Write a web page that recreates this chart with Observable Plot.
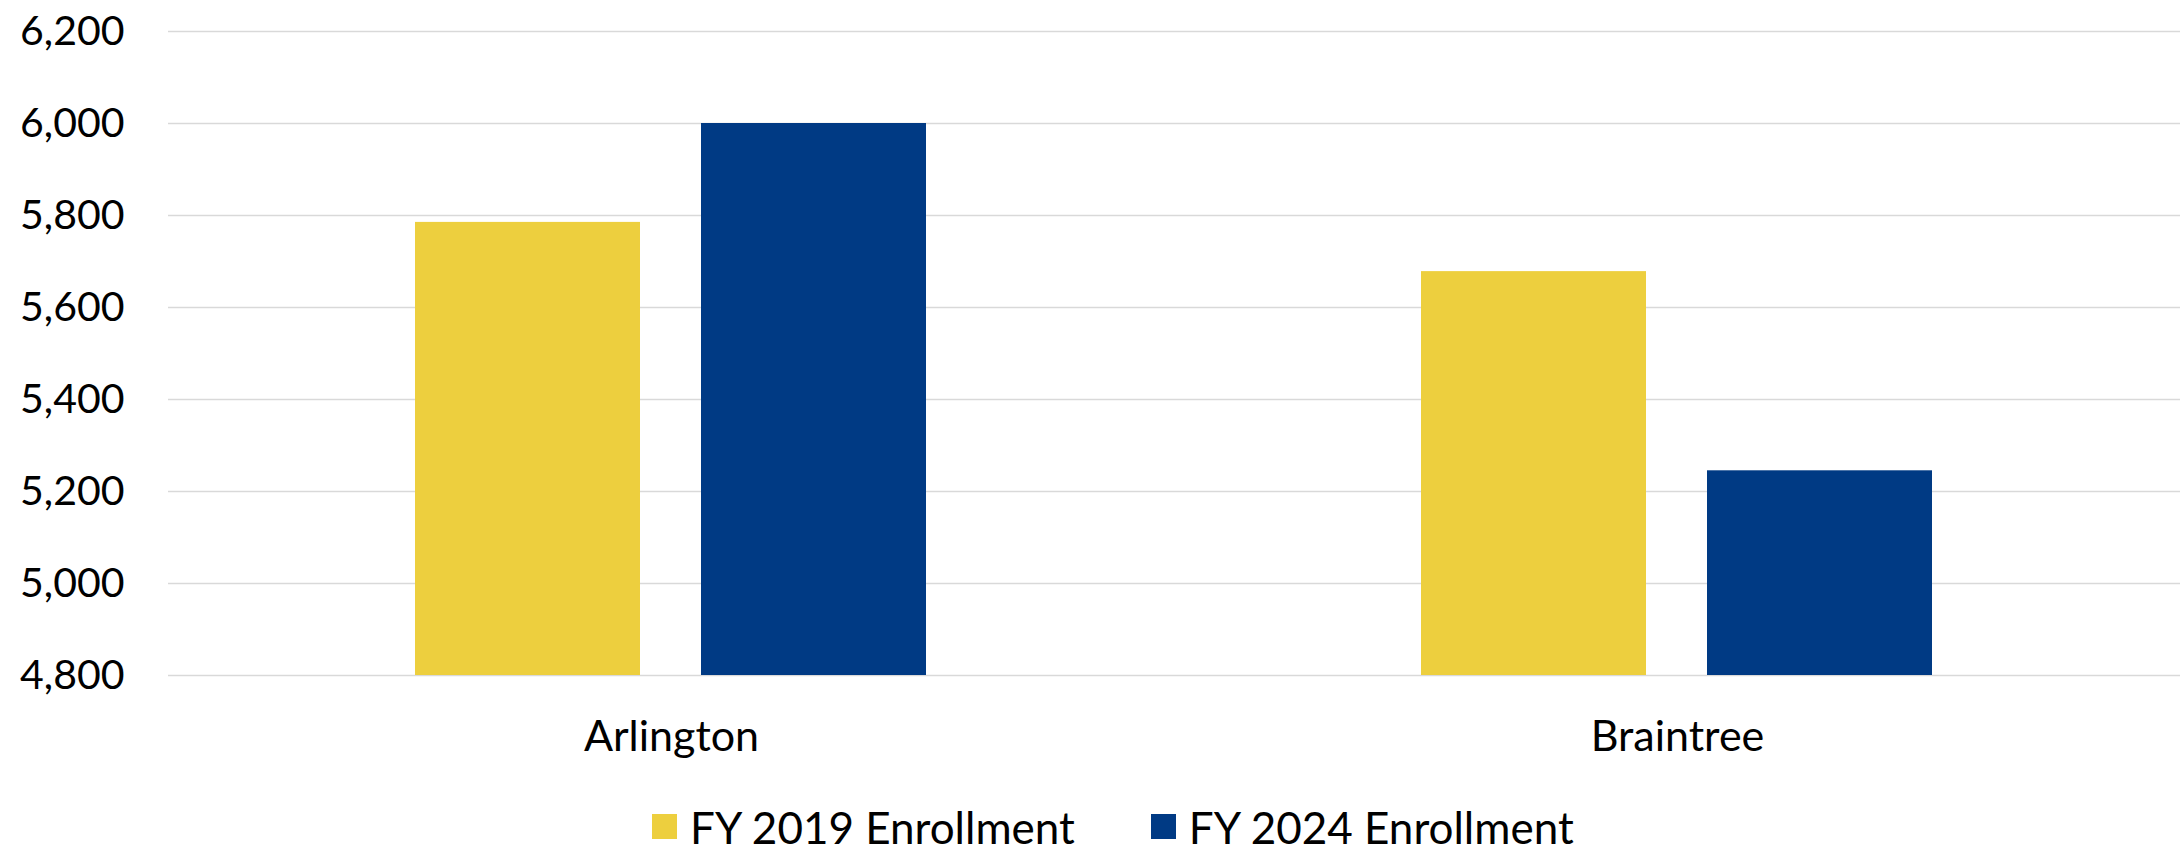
<!DOCTYPE html>
<html>
<head>
<meta charset="utf-8">
<script src="https://cdn.jsdelivr.net/npm/d3@7"></script>
<script src="https://cdn.jsdelivr.net/npm/@observablehq/plot@0.6"></script>
<style>
  html, body { margin: 0; padding: 0; background: #fff; }
  #chart svg { display: block; }
  #legend { display: flex; align-items: center; padding-left: 652px; height: 74px; font-family: Lato, sans-serif; font-size: 44px; line-height: 1.1; color: #000; }
  .item { display: flex; align-items: center; margin-right: 76px; }
  .sw { width: 25px; height: 25px; margin-right: 13px; }
</style>
</head>
<body>
<div id="chart"></div>
<div id="legend"></div>
<script>
const towns = ["Arlington", "Braintree"];
const series = ["FY 2019 Enrollment", "FY 2024 Enrollment"];
const fy2019 = [5785, 5678];
const fy2024 = [6000, 5245];
const yTicks = [4800, 5000, 5200, 5400, 5600, 5800, 6000, 6200];
const colors = ["#EDCF3E", "#003A84"];

const data = towns.flatMap((t, i) => [
  {town: t, series: series[0], value: fy2019[i]},
  {town: t, series: series[1], value: fy2024[i]}
]);

const chart = Plot.plot({
  width: 2181,
  height: 790,
  marginTop: 31,
  marginBottom: 115,
  marginLeft: 167,
  marginRight: 1,
  style: {fontFamily: "Lato, sans-serif", fontSize: "43px", color: "#000", background: "#fff"},
  fx: {domain: towns, padding: 0, label: null, axis: "bottom", tickSize: 0, tickPadding: 45},
  x: {domain: series, paddingInner: 0.213, paddingOuter: 0.865, axis: null},
  y: {domain: [yTicks[0], yTicks[yTicks.length - 1]], axis: null},
  color: {domain: series, range: colors},
  marks: [
    Plot.gridY(yTicks, {stroke: "#d9d9d9", strokeOpacity: 1, strokeWidth: 1.5}),
    Plot.axisY(yTicks, {tickFormat: d3.format(","), tickSize: 0, tickPadding: 44, fontSize: 41, label: null}),
    Plot.barY(data, {fx: "town", x: "series", y1: yTicks[0], y2: "value", fill: "series"})
  ]
});
document.getElementById("chart").appendChild(chart);

const legend = document.getElementById("legend");
series.forEach((s, i) => {
  const item = document.createElement("div");
  item.className = "item";
  const sw = document.createElement("div");
  sw.className = "sw";
  sw.style.background = colors[i];
  const label = document.createElement("span");
  label.textContent = s;
  item.appendChild(sw);
  item.appendChild(label);
  legend.appendChild(item);
});
</script>
</body>
</html>
